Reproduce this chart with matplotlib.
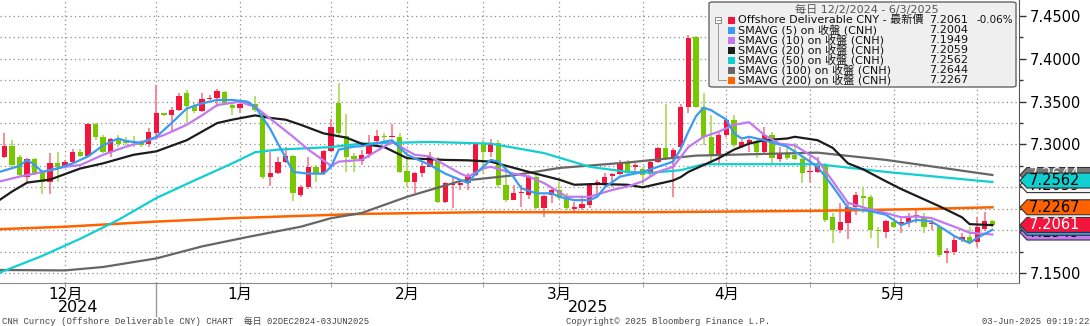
import numpy as np
import matplotlib.pyplot as plt
from matplotlib.patches import Polygon, Rectangle, FancyBboxPatch
from matplotlib.lines import Line2D
import matplotlib.transforms as mtransforms

plt.rcParams['font.family'] = ['DejaVu Sans', 'Noto Sans CJK TC']

W, H = 1090, 326

# daily candles, index 0 = 4 Dec 2024, one per weekday
opens = [7.2858, 7.2987, 7.2858, 7.2625, 7.2827, 7.2672, 7.2567, 7.2781, 7.2742, 7.2800,
         7.2917, 7.2870, 7.3240, 7.3084, 7.2917, 7.3053, 7.3053, 7.3033, 7.3033, 7.3006,
         7.3139, 7.3364, 7.3345, 7.3403, 7.3605, 7.3450, 7.3391, 7.3528, 7.3547, 7.3609,
         7.3457, 7.3422, 7.3473, 7.3473, 7.3364, 7.2625, 7.2664, 7.2800, 7.2866, 7.2411,
         7.2508, 7.2742, 7.2664, 7.2925, 7.3481, 7.3100, 7.2866, 7.2812, 7.2890, 7.3045,
         7.3100, 7.3084, 7.3092, 7.2691, 7.2567, 7.2664, 7.2742, 7.2827, 7.2333, 7.2524,
         7.2528, 7.2547, 7.2645, 7.3014, 7.2917, 7.3014, 7.2528, 7.2353, 7.2430, 7.2411,
         7.2625, 7.2255, 7.2411, 7.2469, 7.2392, 7.2252, 7.2255, 7.2294, 7.2528, 7.2555,
         7.2633, 7.2652, 7.2800, 7.2742, 7.2711, 7.2656, 7.2800, 7.2956, 7.2827, 7.2975,
         7.3442, 7.4251, 7.3442, 7.3092, 7.2878, 7.3111, 7.3286, 7.2975, 7.3014, 7.3014,
         7.2917, 7.3111, 7.2827, 7.2897, 7.2878, 7.2827, 7.2676, 7.2683, 7.2753, 7.2158,
         7.2003, 7.2088, 7.2275, 7.2392, 7.2392, 7.2003, 7.1983, 7.2100, 7.2061, 7.2088,
         7.2158, 7.2158, 7.2069, 7.2042, 7.1738, 7.1750, 7.1886, 7.1925, 7.1866, 7.2010,
         7.2104]
highs = [7.3131, 7.3053, 7.2878, 7.2839, 7.2839, 7.2683, 7.2905, 7.2917, 7.2819, 7.2948,
         7.2948, 7.3247, 7.3255, 7.3111, 7.3072, 7.3111, 7.3092, 7.3103, 7.3053, 7.3197,
         7.3695, 7.3372, 7.3442, 7.3598, 7.3636, 7.3481, 7.3598, 7.3578, 7.3644, 7.3629,
         7.3473, 7.3520, 7.3481, 7.3566, 7.3384, 7.2917, 7.2858, 7.2975, 7.2878, 7.2528,
         7.2858, 7.2761, 7.2936, 7.3298, 7.3722, 7.3352, 7.2897, 7.2936, 7.3111, 7.3170,
         7.3131, 7.3236, 7.3131, 7.2917, 7.2683, 7.2781, 7.2917, 7.2858, 7.2567, 7.2625,
         7.2567, 7.2672, 7.3014, 7.3053, 7.3061, 7.3053, 7.2742, 7.2528, 7.2528, 7.2645,
         7.2664, 7.2411, 7.2508, 7.2567, 7.2430, 7.2333, 7.2392, 7.2547, 7.2586, 7.2664,
         7.2664, 7.2819, 7.2819, 7.2781, 7.2742, 7.2827, 7.2975, 7.3473, 7.2956, 7.3473,
         7.4278, 7.4267, 7.3598, 7.3345, 7.3131, 7.3306, 7.3345, 7.3053, 7.3072, 7.3053,
         7.3208, 7.3150, 7.2975, 7.2995, 7.3014, 7.2858, 7.2858, 7.2858, 7.2781, 7.2197,
         7.2314, 7.2314, 7.2450, 7.2508, 7.2411, 7.2042, 7.2119, 7.2139, 7.2158, 7.2197,
         7.2244, 7.2197, 7.2119, 7.2061, 7.1789, 7.1944, 7.1964, 7.2042, 7.2150, 7.2215,
         7.2119]
lows = [7.2839, 7.2742, 7.2625, 7.2567, 7.2645, 7.2419, 7.2419, 7.2567, 7.2722, 7.2788,
        7.2858, 7.2858, 7.3053, 7.2897, 7.2858, 7.2975, 7.2995, 7.2975, 7.2975, 7.2975,
        7.3053, 7.3337, 7.3150, 7.3395, 7.3247, 7.3364, 7.3384, 7.3520, 7.3434, 7.3473,
        7.3345, 7.3364, 7.3450, 7.3384, 7.2594, 7.2520, 7.2656, 7.2788, 7.2341, 7.2392,
        7.2477, 7.2567, 7.2645, 7.2917, 7.3111, 7.2683, 7.2683, 7.2761, 7.2839, 7.3033,
        7.3033, 7.3072, 7.2664, 7.2508, 7.2430, 7.2625, 7.2742, 7.2314, 7.2322, 7.2255,
        7.2469, 7.2469, 7.2633, 7.2664, 7.2858, 7.2489, 7.2333, 7.2353, 7.2275, 7.2360,
        7.2244, 7.2158, 7.2314, 7.2353, 7.2236, 7.2217, 7.2236, 7.2255, 7.2411, 7.2508,
        7.2508, 7.2645, 7.2645, 7.2664, 7.2528, 7.2625, 7.2788, 7.2819, 7.2392, 7.2956,
        7.3364, 7.3422, 7.2995, 7.2781, 7.2781, 7.3092, 7.2975, 7.2956, 7.2917, 7.2839,
        7.2897, 7.2761, 7.2800, 7.2819, 7.2819, 7.2555, 7.2567, 7.2664, 7.2100, 7.1847,
        7.1964, 7.1894, 7.2178, 7.2197, 7.1905, 7.1789, 7.1905, 7.2022, 7.1964, 7.2042,
        7.2080, 7.1964, 7.2003, 7.1691, 7.1614, 7.1711, 7.1866, 7.1847, 7.1808, 7.1995,
        7.2042]
closes = [7.2987, 7.2761, 7.2645, 7.2827, 7.2664, 7.2567, 7.2781, 7.2742, 7.2800, 7.2917,
          7.2866, 7.3240, 7.3084, 7.2917, 7.3061, 7.3006, 7.3014, 7.3014, 7.2995, 7.3142,
          7.3364, 7.3345, 7.3403, 7.3570, 7.3450, 7.3391, 7.3528, 7.3547, 7.3629, 7.3481,
          7.3422, 7.3469, 7.3461, 7.3403, 7.2625, 7.2664, 7.2800, 7.2866, 7.2430, 7.2508,
          7.2742, 7.2664, 7.2925, 7.3208, 7.3131, 7.2858, 7.2827, 7.2878, 7.3014, 7.3100,
          7.3088, 7.3100, 7.2683, 7.2567, 7.2664, 7.2753, 7.2858, 7.2333, 7.2547, 7.2536,
          7.2547, 7.2645, 7.3002, 7.2917, 7.3022, 7.2528, 7.2353, 7.2438, 7.2446, 7.2633,
          7.2255, 7.2399, 7.2469, 7.2372, 7.2255, 7.2267, 7.2306, 7.2536, 7.2567, 7.2625,
          7.2652, 7.2781, 7.2664, 7.2761, 7.2645, 7.2800, 7.2956, 7.2839, 7.2936, 7.3442,
          7.4239, 7.3442, 7.3092, 7.2878, 7.3111, 7.3286, 7.2995, 7.3033, 7.3053, 7.2917,
          7.3111, 7.2839, 7.2897, 7.2839, 7.2827, 7.2664, 7.2691, 7.2753, 7.2119, 7.2003,
          7.2100, 7.2275, 7.2411, 7.2380, 7.2003, 7.1991, 7.2112, 7.2042, 7.2100, 7.2139,
          7.2178, 7.2042, 7.2080, 7.1711, 7.1761, 7.1886, 7.1925, 7.1866, 7.2042, 7.2104,
          7.2061]

# moving averages (day index, value)
ma5_x = [-1, 2, 3, 4, 5, 7, 9, 11, 13, 15, 16, 18, 20, 22, 24, 26, 28, 30, 32, 33, 35, 36, 37, 38,
         40, 42, 43, 44, 46, 47, 51, 53, 56, 58, 61, 62, 64, 65, 67, 68, 70, 72, 73, 75, 77, 78,
         79, 81, 84, 86, 88, 89, 90, 91, 92, 93, 95, 96, 97, 98, 100, 103, 105, 107, 109, 111,
         114, 116, 118, 120, 122, 124, 125, 127, 128, 130]
ma5_y = [7.267, 7.275, 7.282, 7.276, 7.268, 7.272, 7.278, 7.286, 7.299, 7.307, 7.304, 7.302,
         7.309, 7.325, 7.342, 7.348, 7.352, 7.352, 7.350, 7.344, 7.318, 7.301, 7.285, 7.268,
         7.266, 7.266, 7.274, 7.294, 7.2975, 7.298, 7.305, 7.288, 7.276, 7.266, 7.255, 7.266,
         7.282, 7.280, 7.262, 7.249, 7.243, 7.243, 7.239, 7.235, 7.235, 7.239, 7.250, 7.2625,
         7.268, 7.274, 7.280, 7.295, 7.315, 7.333, 7.343, 7.340, 7.329, 7.313, 7.307, 7.309,
         7.305, 7.2975, 7.286, 7.274, 7.251, 7.226, 7.222, 7.218, 7.206, 7.212, 7.210, 7.199,
         7.193, 7.185, 7.191, 7.2004]

ma10_x = [-1, 2, 4, 8, 10, 13, 16, 19, 21, 24, 26, 28, 31, 33, 36, 38, 40, 43, 44, 47, 51, 54,
          56, 60, 61, 63, 64, 67, 69, 71, 74, 77, 80, 82, 84, 86, 88, 90, 92, 94, 96, 98, 100,
          102, 104, 107, 109, 111, 114, 116, 118, 120, 122, 125, 127, 130]
ma10_y = [7.256, 7.2625, 7.266, 7.274, 7.276, 7.288, 7.2975, 7.305, 7.311, 7.323, 7.334, 7.346,
          7.350, 7.344, 7.323, 7.309, 7.294, 7.275, 7.280, 7.282, 7.303, 7.288, 7.286, 7.266,
          7.2625, 7.272, 7.274, 7.266, 7.2625, 7.255, 7.239, 7.239, 7.247, 7.251, 7.257, 7.268,
          7.274, 7.297, 7.309, 7.315, 7.323, 7.326, 7.311, 7.301, 7.299, 7.282, 7.257, 7.232,
          7.224, 7.220, 7.215, 7.216, 7.214, 7.204, 7.197, 7.1949]

ma20_x = [-1, 1, 3, 6, 10, 13, 17, 20, 24, 28, 30, 33, 35, 37, 39, 42, 45, 47, 50, 53, 58, 61,
          64, 69, 73, 75, 78, 82, 84, 86, 88, 89, 90, 92, 94, 96, 98, 100, 103, 104, 107, 109,
          111, 113, 116, 118, 120, 123, 126, 127, 130]
ma20_y = [7.233, 7.245, 7.2555, 7.259, 7.272, 7.278, 7.288, 7.292, 7.305, 7.325, 7.329, 7.334,
          7.331, 7.329, 7.323, 7.313, 7.308, 7.301, 7.297, 7.284, 7.282, 7.2815, 7.280, 7.268,
          7.259, 7.253, 7.254, 7.253, 7.250, 7.254, 7.258, 7.262, 7.268, 7.276, 7.284, 7.294,
          7.301, 7.305, 7.307, 7.309, 7.305, 7.296, 7.278, 7.271, 7.257, 7.248, 7.240, 7.228,
          7.215, 7.207, 7.2059]

ma50_x = [-1, 5, 10, 15, 20, 25, 30, 33, 36, 43, 47, 56, 64, 71, 77, 82, 85, 89, 92, 98, 107,
          116, 130]
ma50_y = [7.149, 7.170, 7.190, 7.212, 7.2375, 7.258, 7.278, 7.291, 7.294, 7.297, 7.301, 7.303,
          7.301, 7.290, 7.274, 7.268, 7.267, 7.270, 7.277, 7.277, 7.277, 7.268, 7.2562]

ma100_x = [-1, 8, 13, 20, 26, 32, 39, 43, 47, 53, 60, 67, 73, 82, 91, 94, 107, 116, 130]
ma100_y = [7.1535, 7.153, 7.157, 7.167, 7.181, 7.192, 7.204, 7.214, 7.220, 7.239, 7.2574, 7.264,
           7.2726, 7.279, 7.287, 7.2877, 7.2905, 7.282, 7.2644]

ma200_x = [-1, 8, 20, 30, 47, 63, 85, 106, 120, 130]
ma200_y = [7.201, 7.204, 7.210, 7.214, 7.219, 7.221, 7.221, 7.2225, 7.2245, 7.2267]

month_names = ['12月', '1月', '2月', '3月', '4月', '5月']
month_mid = [8, 31, 53, 73, 95, 117]        # first trading day from the 16th
month_start = [20, 43, 63, 84, 106, 128]    # first trading day of Jan..Jun
year_start = 20

legend_names = ['Offshore Deliverable CNY - 最新價', 'SMAVG (5) on 收盤 (CNH)',
                'SMAVG (10) on 收盤 (CNH)', 'SMAVG (20) on 收盤 (CNH)',
                'SMAVG (50) on 收盤 (CNH)', 'SMAVG (100) on 收盤 (CNH)',
                'SMAVG (200) on 收盤 (CNH)']
legend_vals = [7.2061, 7.2004, 7.1949, 7.2059, 7.2562, 7.2644, 7.2267]
last_change = '-0.06%'

RED, GREEN = '#F2163E', '#78C800'
RED_WICK, GREEN_WICK = '#F57A8C', '#A8DC55'
C5, C10, C20, C50, C100, C200 = '#3A9BF2', '#C178F0', '#1C1C1C', '#10CFD0', '#666666', '#FF6300'


def fx(px):
    return px / W


def fy(py):
    return 1 - py / H


fig = plt.figure(figsize=(W / 100, H / 100), dpi=100, facecolor='white')
ax = fig.add_axes([0, fy(283), fx(1019), 283 / H])

x = np.arange(len(closes))
o, h, l, c = map(np.array, (opens, highs, lows, closes))
up = c >= o
bot = np.minimum(o, c)
hgt = np.maximum(np.abs(c - o), 0.0016)

ax.vlines(x[up], l[up], h[up], color=RED_WICK, lw=1.2, zorder=2)
ax.vlines(x[~up], l[~up], h[~up], color=GREEN_WICK, lw=1.2, zorder=2)
ax.bar(x[up], hgt[up], bottom=bot[up], width=0.7, color=RED, lw=0, zorder=3)
ax.bar(x[~up], hgt[~up], bottom=bot[~up], width=0.7, color=GREEN, lw=0, zorder=3)

ax.plot(ma200_x, ma200_y, color=C200, lw=1.8, zorder=4)
ax.plot(ma100_x, ma100_y, color=C100, lw=1.6, zorder=4)
ax.plot(ma50_x, ma50_y, color=C50, lw=1.6, zorder=4)
ax.plot(ma20_x, ma20_y, color=C20, lw=1.6, zorder=5)
ax.plot(ma10_x, ma10_y, color=C10, lw=1.6, zorder=5)
ax.plot(ma5_x, ma5_y, color=C5, lw=1.6, zorder=6)

ax.set_xlim(-0.57, 133.5)
ax.set_ylim(7.1383, 7.4687)

# axes, grid (7.20 / 7.25 labels sit under the value tags)
yt = np.arange(7.15, 7.451, 0.05)
ax.yaxis.tick_right()
ax.set_yticks(yt)
ax.set_yticks(np.arange(7.175, 7.45, 0.05), minor=True)
ax.set_yticklabels(['' if abs(v - 7.20) < 1e-6 or abs(v - 7.25) < 1e-6 else '%.4f' % v
                    for v in yt])
ax.tick_params(axis='y', which='major', length=5, width=1, color='#333333',
               labelsize=10.5, pad=3)
ax.tick_params(axis='y', which='minor', length=3, width=1, color='#333333')
ax.set_xticks(month_mid)
ax.set_xticklabels(month_names, fontsize=11)
ax.set_xticks(month_start, minor=True)
ax.tick_params(axis='x', which='both', length=3, color='#999999', pad=0)
ax.grid(axis='both', which='both', linestyle=(0, (1, 2.5)), color='#8c8c8c', lw=0.9)
ax.set_axisbelow(True)
for s in ('left', 'top'):
    ax.spines[s].set_visible(False)
ax.spines['right'].set_color('#555555')
ax.spines['bottom'].set_color('#8a8a8a')

tr = mtransforms.blended_transform_factory(ax.transData, ax.transAxes)
ax.plot([year_start, year_start], [0, -0.117], transform=tr, color='#9a9a9a', lw=1,
        clip_on=False)
ax.text((ax.get_xlim()[0] + year_start) / 2, -0.087, '2024', transform=tr, ha='center',
        va='center', fontsize=11.5)
ax.text((ax.get_xlim()[1] + year_start) / 2, -0.087, '2025', transform=tr, ha='center',
        va='center', fontsize=11.5)

# footer
mono = ['Liberation Mono', 'Noto Sans CJK TC']
fig.text(fx(2), fy(321), 'CNH Curncy (Offshore Deliverable CNY) CHART  每日 02DEC2024-03JUN2025',
         family=mono, fontsize=6.4, color='#444444', va='center')
fig.text(fx(566), fy(321), 'Copyright© 2025 Bloomberg Finance L.P.', family=mono,
         fontsize=6.4, color='#444444', va='center')
fig.text(fx(1089), fy(321), '03-Jun-2025 09:19:22', family=mono, fontsize=6.4,
         color='#444444', va='center', ha='right')

# legend box
fig.add_artist(FancyBboxPatch((fx(709), fy(87)), fx(1016) - fx(709), 85 / H,
                              boxstyle='round,pad=0,rounding_size=0.004',
                              facecolor='#EFEFEF', edgecolor='#666666', lw=1, zorder=20))
fig.text(fx(867), fy(10), '每日 12/2/2024 - 6/3/2025', ha='center', va='center',
         fontsize=8, color='#555555', zorder=21)
fig.add_artist(Rectangle((fx(715), fy(23)), 6 / W, 6 / H, facecolor='white',
                         edgecolor='#888888', lw=0.7, zorder=21))
fig.add_artist(Line2D([fx(716.5), fx(719.5)], [fy(20), fy(20)], color='#888888', lw=0.7,
                      zorder=22))
fig.add_artist(Line2D([fx(718), fx(718), fx(726)], [fy(23), fy(80), fy(80)], color='#999999',
                      lw=0.7, zorder=21))
for k, (name, val, col) in enumerate(zip(legend_names, legend_vals,
                                         [RED, C5, C10, C20, C50, C100, C200])):
    yy = 20 + 10 * k
    fig.add_artist(Rectangle((fx(728), fy(yy + 3.5)), 7 / W, 7 / H, facecolor=col,
                             edgecolor='none', zorder=21))
    fig.text(fx(738), fy(yy), name, va='center', fontsize=8, color='#111111', zorder=21)
    fig.text(fx(968), fy(yy), '%.4f' % val, va='center', ha='right', fontsize=8,
             color='#111111', zorder=21)
fig.text(fx(1013), fy(20), last_change, va='center', ha='right', fontsize=7.5,
         color='#111111', zorder=21)


# value tags on the right axis
def tag(val, text, face, tcol, z, shift=0.0):
    yc = H - ax.transData.transform((0, val))[1] + shift
    pts = [(1020, yc), (1027, yc - 7.5), (1092, yc - 7.5), (1092, yc + 7.5), (1027, yc + 7.5)]
    fig.add_artist(Polygon([(fx(px), fy(py)) for px, py in pts], closed=True, facecolor=face,
                           edgecolor='#333333', lw=0.8, zorder=z))
    fig.text(fx(1029), fy(yc), text, va='center', ha='left', fontsize=10.5, color=tcol,
             zorder=z)


tag(legend_vals[5], '7.2644', '#777777', 'white', 10)
tag(legend_vals[3], '7.2059', '#F4F4F4', 'black', 11, shift=-40)
tag(legend_vals[4], '7.2562', C50, 'black', 12, shift=-1.5)
tag(legend_vals[6], '7.2267', C200, 'black', 13)
tag(legend_vals[2], '7.1949', C10, 'black', 14, shift=-2)
tag(legend_vals[1], '7.2004', C5, 'black', 15, shift=-2)
tag(legend_vals[0], '7.2061', RED, 'white', 16)

fig.savefig('out.png', dpi=100, facecolor='white')
